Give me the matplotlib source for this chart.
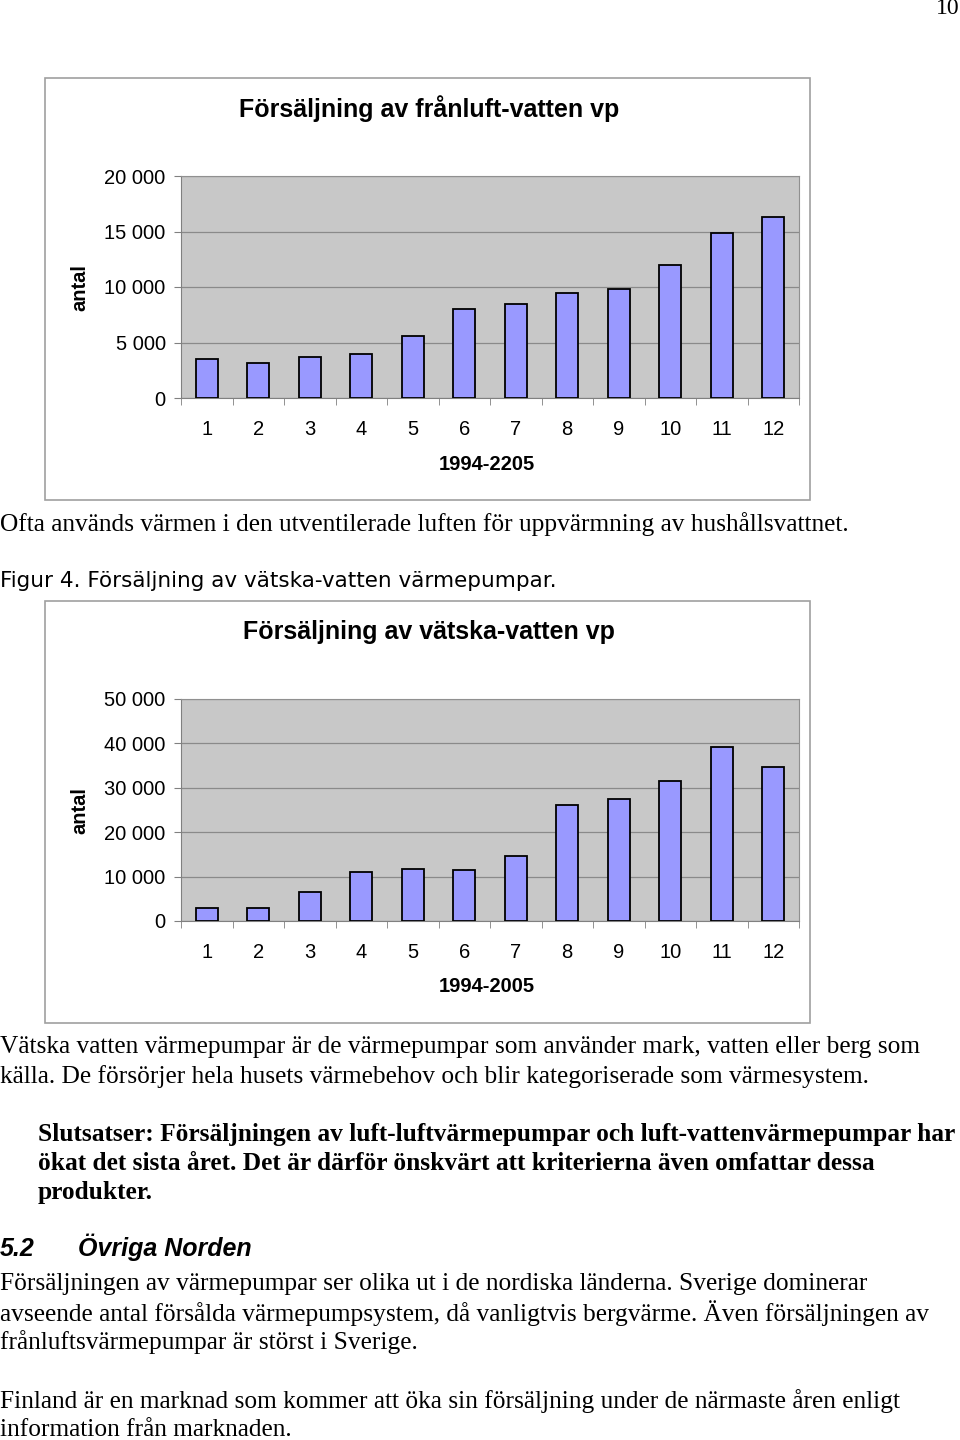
import numpy as np
import matplotlib
matplotlib.use('Agg')
import matplotlib.pyplot as plt
from matplotlib.patches import Rectangle
from matplotlib.ticker import FuncFormatter, MultipleLocator

# --- DADOS ---
kategorier = ['1', '2', '3', '4', '5', '6', '7', '8', '9', '10', '11', '12']
franluft = [3550, 3150, 3700, 4000, 5550, 8000, 8450, 9450, 9850, 12000, 14900, 16300]
vatska = [2850, 2850, 6450, 11100, 11800, 11400, 14700, 26100, 27500, 31500, 39300, 34600]

W, H = 960, 1440
SANS = ['Liberation Sans Narrow', 'Liberation Sans', 'DejaVu Sans']
SERIF = ['Liberation Serif', 'DejaVu Serif']

fig = plt.figure(figsize=(W / 100, H / 100), dpi=100)


def fx(x):
    return x / W


def fy(y):
    return 1 - y / H


def tusental(v, pos):
    return f"{int(v):,}".replace(',', ' ')


def rita_diagram(topp, titel, varden, ymax, steg, xetikett):
    # ram runt diagrammet
    fig.patches.append(Rectangle((fx(45), fy(topp + 422)), fx(765), 422 / H,
                                 transform=fig.transFigure, fill=False,
                                 edgecolor='#a0a0a0', lw=1.2))
    fig.text(fx(429), fy(topp + 31), titel, ha='center', va='center',
             fontsize=18, fontweight='bold', family=SANS)

    ax = fig.add_axes([fx(181), fy(topp + 320), fx(618), 222 / H])
    ax.set_facecolor('#c8c8c8')
    x = np.arange(len(varden))
    ax.bar(x, varden, width=0.42, color='#9999ff', edgecolor='black', lw=1.3, zorder=3)
    ax.set_xlim(-0.5, len(varden) - 0.5)
    ax.set_ylim(0, ymax)
    ax.yaxis.set_major_locator(MultipleLocator(steg))
    ax.yaxis.set_major_formatter(FuncFormatter(tusental))
    ax.grid(axis='y', color='#8a8a8a', lw=0.9, zorder=1)

    ax.set_xticks(x)
    ax.set_xticklabels(kategorier, family=SANS, fontsize=14.5)
    ax.set_xticks(np.arange(len(varden) + 1) - 0.5, minor=True)
    ax.tick_params(axis='x', which='major', length=0, pad=16)
    ax.tick_params(axis='x', which='minor', length=5, color='#808080')
    ax.tick_params(axis='y', length=5, color='#808080', pad=6, labelsize=14.5)
    for lbl in ax.get_yticklabels():
        lbl.set_family(SANS)

    for s in ['top', 'right']:
        ax.spines[s].set_color('#909090')
    ax.spines['left'].set_color('#808080')
    ax.spines['bottom'].set_color('#808080')

    fig.text(fx(487), fy(topp + 386), xetikett, ha='center', va='center',
             fontsize=14.5, fontweight='bold', family=SANS)
    fig.text(fx(80), fy(topp + 210), 'antal', ha='center', va='center', rotation=90,
             fontsize=14.5, fontweight='bold', family=SANS)


rita_diagram(78, 'Försäljning av frånluft-vatten vp', franluft, 20000, 5000, '1994-2205')
rita_diagram(601, 'Försäljning av vätska-vatten vp', vatska, 50000, 10000, '1994-2005')

# --- TEXT PÅ SIDAN ---
def rad(x, y, s, **kw):
    opts = dict(ha='left', va='center', fontsize=18.3, family=SERIF)
    opts.update(kw)
    fig.text(fx(x), fy(y), s, **opts)


rad(960, 8, '10', ha='right', fontsize=17)
rad(0, 524, 'Ofta används värmen i den utventilerade luften för uppvärmning av hushållsvattnet.')
rad(0, 581, 'Figur 4. Försäljning av vätska-vatten värmepumpar.', family=['DejaVu Sans'],
    fontsize=15.5)
rad(0, 1047, 'Vätska vatten värmepumpar är de värmepumpar som använder mark, vatten eller berg som')
rad(0, 1077, 'källa. De försörjer hela husets värmebehov och blir kategoriserade som värmesystem.')
rad(38, 1135, 'Slutsatser: Försäljningen av luft-luftvärmepumpar och luft-vattenvärmepumpar har',
    fontweight='bold')
rad(38, 1164, 'ökat det sista året. Det är därför önskvärt att kriterierna även omfattar dessa',
    fontweight='bold')
rad(38, 1193, 'produkter.', fontweight='bold')
rad(0, 1256, '5.2', family=['Liberation Sans', 'DejaVu Sans'], fontweight='bold', style='italic',
    fontsize=18, va='baseline')
rad(78, 1256, 'Övriga Norden', family=['Liberation Sans', 'DejaVu Sans'], fontweight='bold',
    style='italic', fontsize=18, va='baseline')
rad(0, 1284, 'Försäljningen av värmepumpar ser olika ut i de nordiska länderna. Sverige dominerar')
rad(0, 1313, 'avseende antal försålda värmepumpsystem, då vanligtvis bergvärme. Även försäljningen av')
rad(0, 1342, 'frånluftsvärmepumpar är störst i Sverige.')
rad(0, 1401, 'Finland är en marknad som kommer att öka sin försäljning under de närmaste åren enligt')
rad(0, 1430, 'information från marknaden.')

fig.savefig('out.png', dpi=100)
